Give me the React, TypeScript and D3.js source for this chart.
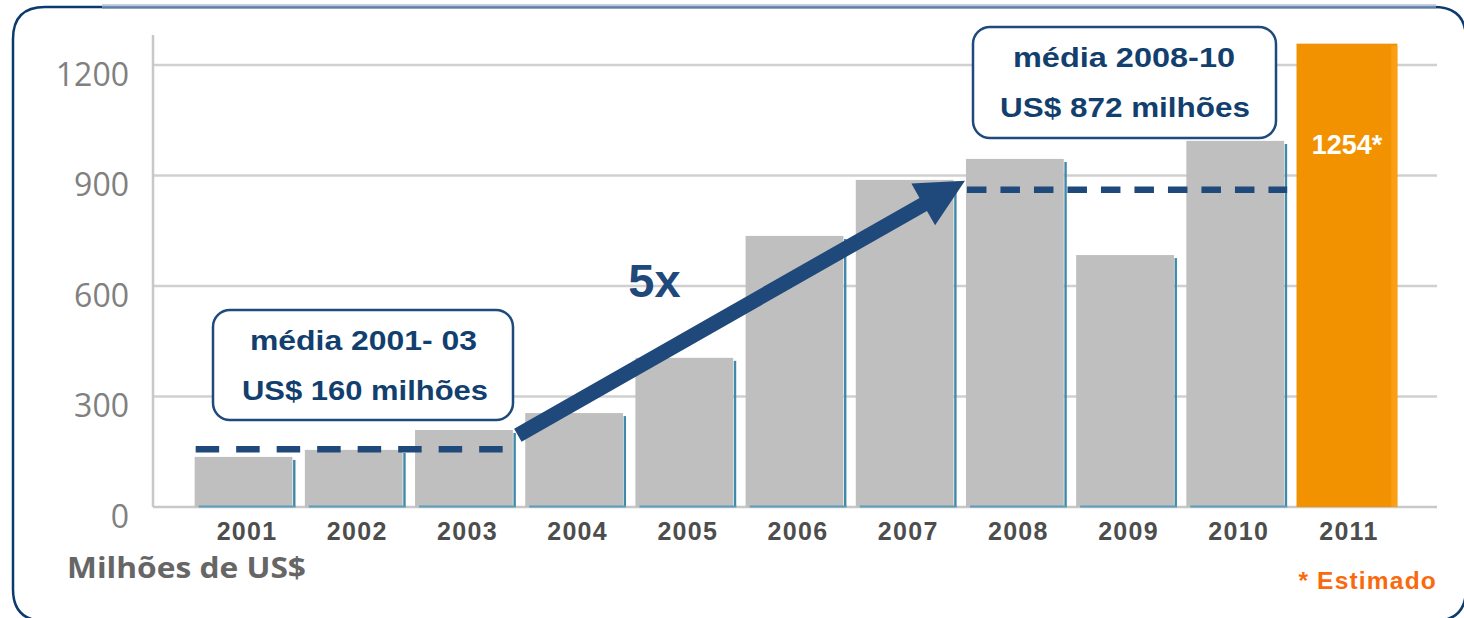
import React from "react";
import * as d3 from "d3";

const years = ["2001","2002","2003","2004","2005","2006","2007","2008","2009","2010","2011"];
const values = [136, 155, 209, 255, 405, 736, 888, 945, 684, 994, 1258];
const estimatedYear = "2011";
const estimatedLabel = "1254*";
const yTicks = [0, 300, 600, 900, 1200];
const avgLines = [
  { from: "2001", to: "2003", value: 157, dash: "23.5 17" },
  { from: "2008", to: "2010", value: 861, dash: "19.5 14" },
];
const boxLines1 = ["média 2001- 03", "US$ 160 milhões"];
const boxLines2 = ["média 2008-10", "US$ 872 milhões"];
const arrowFrom = { year: "2003", value: 195 };
const arrowTo = { year: "2008", value: 886 };
const multiplier = "5x";
const unitLabel = "Milhões de US$";
const noteLabel = "* Estimado";

const W = 1464, H = 618;
const BLUE = "#1f487b";
const TEXTBLUE = "#123f6e";

export default function App() {
  const x = d3.scaleBand<string>().domain(years).range([155, 1437]).paddingInner(0.085).paddingOuter(0.36);
  const y = d3.scaleLinear().domain([0, 1200]).range([507, 65]);
  const bw = x.bandwidth();
  const base = y(0);

  // arrow geometry
  const ax0 = (x(arrowFrom.year) as number) + bw + 2;
  const ay0 = y(arrowFrom.value);
  const ax1 = (x(arrowTo.year) as number) - 1;
  const ay1 = y(arrowTo.value);
  const len = Math.hypot(ax1 - ax0, ay1 - ay0);
  const ux = (ax1 - ax0) / len, uy = (ay1 - ay0) / len;
  const nx = -uy, ny = ux;
  const sw = 7.5, hw = 24, hl = 48;
  const bx = ax1 - ux * hl, by = ay1 - uy * hl;
  const arrowPts = [
    [ax0 + nx * sw, ay0 + ny * sw],
    [bx + nx * sw, by + ny * sw],
    [bx + nx * hw, by + ny * hw],
    [ax1, ay1],
    [bx - nx * hw, by - ny * hw],
    [bx - nx * sw, by - ny * sw],
    [ax0 - nx * sw, ay0 - ny * sw],
  ].map(p => p.join(",")).join(" ");

  const borderPath = (() => {
    const l = 13, t = 7, r = 1466, b = 621, rad = 32;
    const p = d3.path();
    p.moveTo(l + rad, t);
    p.lineTo(r - rad, t);
    p.quadraticCurveTo(r, t, r, t + rad);
    p.lineTo(r, b - rad);
    p.quadraticCurveTo(r, b, r - rad, b);
    p.lineTo(l + rad, b);
    p.quadraticCurveTo(l, b, l, b - rad);
    p.lineTo(l, t + rad);
    p.quadraticCurveTo(l, t, l + rad, t);
    return p.toString();
  })();

  const fontBold = "'Liberation Sans', Arial, sans-serif";

  return (
    <svg width={W} height={H} style={{ position: "absolute", left: 0, top: 0, background: "#fff" }}>
      {/* border */}
      <path d={borderPath} fill="none" stroke="#0b3a6e" strokeWidth={2.5} />
      <line x1={102} x2={1436} y1={5.5} y2={5.5} stroke="#b6c5d7" strokeWidth={2.5} />
      <line x1={102} x2={1436} y1={7.5} y2={7.5} stroke="#5e7fa6" strokeWidth={2} />

      {/* gridlines */}
      {yTicks.filter(t => t > 0).map(t => (
        <line key={t} x1={153} x2={1437} y1={y(t)} y2={y(t)} stroke="#d0d0d0" strokeWidth={2.5} />
      ))}
      <line x1={153} x2={153} y1={35} y2={base} stroke="#c8c8c8" strokeWidth={2.5} />
      <line x1={153} x2={1437} y1={base} y2={base} stroke="#c8c8c8" strokeWidth={2.5} />

      {/* y tick labels */}
      {yTicks.map(t => (
        <text key={t} x={129} y={y(t) + 20.5} textAnchor="end" fontFamily="'Open Sans', sans-serif" fontSize={32} fill="#808080">{t}</text>
      ))}

      {/* bars */}
      {years.map((yr, i) => {
        const bx0 = x(yr) as number;
        const top = y(values[i]);
        if (yr === estimatedYear) {
          return (
            <g key={yr}>
              <rect x={bx0} y={top} width={bw} height={base - top} fill="#f39200" />
              <rect x={bx0 + bw - 6} y={top + 2} width={6} height={base - top - 2} fill="#fb9e14" />
              <text x={bx0 + bw / 2} y={top + 110} textAnchor="middle" fontFamily={fontBold} fontWeight="bold" fontSize={27} fill="#ffffff">{estimatedLabel}</text>
            </g>
          );
        }
        return (
          <g key={yr}>
            <rect x={bx0} y={top} width={bw - 3} height={base - top} fill="#bfbfbf" />
            <line x1={bx0 + bw - 1.2} x2={bx0 + bw - 1.2} y1={top + 3} y2={base} stroke="#4189a8" strokeWidth={2.4} />
            <line x1={bx0 + 4} x2={bx0 + bw} y1={base - 0.5} y2={base - 0.5} stroke="#5d9db7" strokeWidth={2} />
          </g>
        );
      })}

      {/* year labels */}
      {years.map(yr => (
        <text key={yr} x={(x(yr) as number) + bw / 2 + 2} y={540} textAnchor="middle" fontFamily={fontBold} fontWeight="bold" fontSize={25} letterSpacing={1.3} fill="#4d4d4d">{yr}</text>
      ))}

      {/* average dashed lines */}
      {avgLines.map((a, i) => (
        <line key={i} x1={(x(a.from) as number) + 1} x2={(x(a.to) as number) + bw} y1={y(a.value)} y2={y(a.value)} stroke={BLUE} strokeWidth={6.5} strokeDasharray={a.dash} />
      ))}

      {/* arrow */}
      <polygon points={arrowPts} fill={BLUE} />
      <text x={654.5} y={297} textAnchor="middle" fontFamily={fontBold} fontWeight="bold" fontSize={47} fill={BLUE}>{multiplier}</text>

      {/* box 1 */}
      <rect x={213} y={310} width={300} height={110} rx={17} fill="#fff" stroke="#1f4a7c" strokeWidth={2.5} />
      <text x={363.5} y={350} textAnchor="middle" fontFamily={fontBold} fontWeight="bold" fontSize={28} fill={TEXTBLUE} textLength={227} lengthAdjust="spacingAndGlyphs">{boxLines1[0]}</text>
      <text x={365} y={400} textAnchor="middle" fontFamily={fontBold} fontWeight="bold" fontSize={28} fill={TEXTBLUE} textLength={246} lengthAdjust="spacingAndGlyphs">{boxLines1[1]}</text>

      {/* box 2 */}
      <rect x={973} y={27} width={303} height={111} rx={17} fill="#fff" stroke="#1f4a7c" strokeWidth={2.5} />
      <text x={1124} y={67} textAnchor="middle" fontFamily={fontBold} fontWeight="bold" fontSize={28} fill={TEXTBLUE} textLength={222} lengthAdjust="spacingAndGlyphs">{boxLines2[0]}</text>
      <text x={1125} y={117} textAnchor="middle" fontFamily={fontBold} fontWeight="bold" fontSize={28} fill={TEXTBLUE} textLength={250} lengthAdjust="spacingAndGlyphs">{boxLines2[1]}</text>

      {/* unit + note */}
      <text x={67} y={578} fontFamily="'Open Sans', sans-serif" fontWeight="bold" fontSize={29} fill="#666666" textLength={239} lengthAdjust="spacingAndGlyphs">{unitLabel}</text>
      <text x={1437} y={589} textAnchor="end" fontFamily={fontBold} fontWeight="bold" fontSize={24.5} letterSpacing={1.2} fill="#f96a0e">{noteLabel}</text>
    </svg>
  );
}
